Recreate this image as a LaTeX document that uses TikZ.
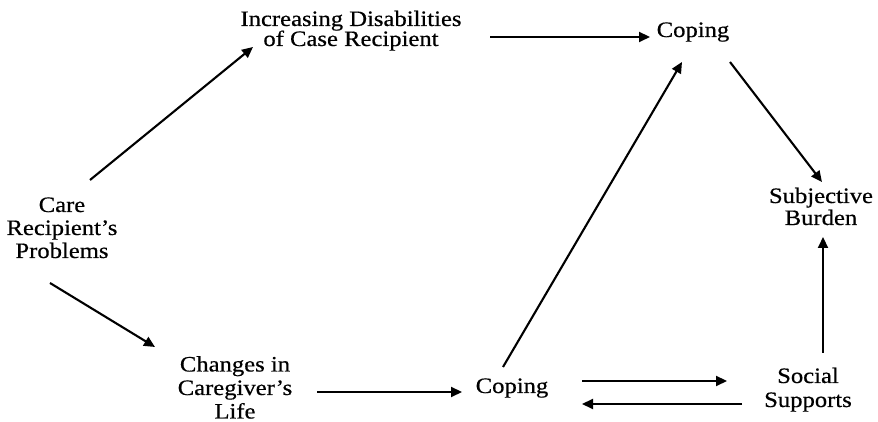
\documentclass[tikz,border=0pt]{standalone}
\usepackage{fontspec}
\setmainfont{Liberation Serif}
\newfontfamily\lblfont[Ligatures=TeX,FakeBold=0.5]{Liberation Serif}
\usepackage{graphicx}
\usetikzlibrary{arrows.meta}

% label text: slightly widened serif, lines stacked in a tabular
\newcommand{\lbl}[1]{\scalebox{1.12}[1]{\lblfont\fontsize{22}{23}\selectfont\begin{tabular}{@{}c@{}}#1\end{tabular}}}

\tikzset{
  concept/.style={inner sep=0pt, anchor=center},
  link/.style={line width=2.1pt, -{Triangle[length=11pt,width=10pt]}},
}

\begin{document}
\begin{tikzpicture}[x=1pt,y=1pt]
\useasboundingbox (0,0) rectangle (878,422);

\node[concept] (care) at (62,191.6)  {\lbl{Care\\Recipient’s\\Problems}};
\node[concept] (dis)  at (351,390.6) {\lbl{Increasing Disabilities\\[-3pt]of Case Recipient}};
\node[concept] (copt) at (693,389.6) {\lbl{Coping}};
\node[concept] (subj) at (821,212.6) {\lbl{Subjective\\[-1pt]Burden}};
\node[concept] (chg)  at (235,31.6)  {\lbl{Changes in\\[0.5pt]Caregiver’s\\[0.5pt]Life}};
\node[concept] (copb) at (512,33.6)  {\lbl{Coping}};
\node[concept] (soc)  at (808,31.6)  {\lbl{Social\\[1pt]Supports}};

\draw[link] ([shift={(28,50.4)}]care.center)   -- ([shift={(-98,-15.6)}]dis.center);
\draw[link] ([shift={(-12,-52.6)}]care.center) -- ([shift={(-80,43.4)}]chg.center);
\draw[link] ([shift={(82,-1.6)}]chg.center)    -- ([shift={(-50,-3.6)}]copb.center);
\draw[link] ([shift={(139,-5.6)}]dis.center)   -- ([shift={(-43,-4.6)}]copt.center);
\draw[link] ([shift={(-9,21.4)}]copb.center)   -- ([shift={(-11,-29.6)}]copt.center);
\draw[link] ([shift={(37,-29.6)}]copt.center)  -- ([shift={(1,27.4)}]subj.center);
\draw[link] ([shift={(15,37.4)}]soc.center)    -- ([shift={(2,-27.6)}]subj.center);
\draw[link] ([shift={(70,7.4)}]copb.center)    -- ([shift={(-81,9.4)}]soc.center);
\draw[link] ([shift={(-66,-13.6)}]soc.center)  -- ([shift={(70,-15.6)}]copb.center);
\end{tikzpicture}
\end{document}
